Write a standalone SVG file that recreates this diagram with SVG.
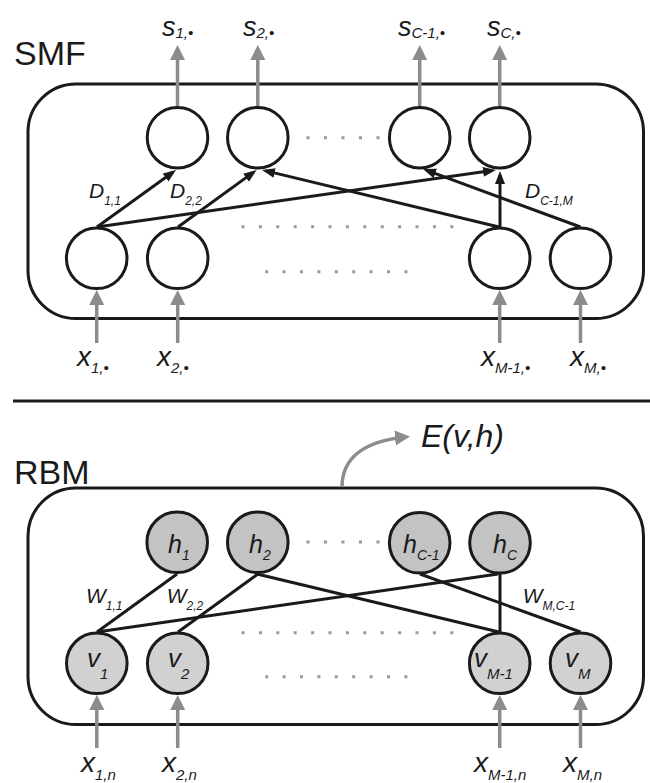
<svg xmlns="http://www.w3.org/2000/svg" width="650" height="783" viewBox="0 0 650 783">
<style>
.box{fill:none;stroke:#1a1a1a;stroke-width:3}
.node{fill:#fff;stroke:#1a1a1a;stroke-width:3}
.h{fill:#c3c3c3}
.v{fill:#d1d1d1}
.edge{fill:none;stroke:#1a1a1a;stroke-width:3}
.io{fill:none;stroke:#8c8c8c;stroke-width:3.5}
.dots{stroke:#999;stroke-width:3;fill:none}
.t{font-family:"Liberation Sans",Arial,sans-serif;font-style:italic;fill:#1a1a1a}
.title{font-family:"Liberation Sans",Arial,sans-serif;font-size:34px;fill:#1a1a1a}
</style>
<defs>
<marker id="ab" markerUnits="userSpaceOnUse" markerWidth="14" markerHeight="11" refX="9" refY="5" orient="auto" viewBox="0 0 14 11">
<path d="M0,0 L13,5 L0,10 z" fill="#1a1a1a"/>
</marker>
<marker id="ag" markerUnits="userSpaceOnUse" markerWidth="16" markerHeight="16" refX="11" refY="7.5" orient="auto" viewBox="0 0 16 16">
<path d="M0,0 L15,7.5 L0,15 z" fill="#8c8c8c"/>
</marker>
</defs>

<text class="title" x="14" y="65">SMF</text>
<line x1="13" y1="401" x2="650" y2="401" stroke="#1a1a1a" stroke-width="3"/>
<text class="title" x="14" y="484">RBM</text>

<g id="smf-box"><rect class="box" x="28" y="84" width="615.5" height="234.5" rx="48"/></g>
<g id="rbm-box"><rect class="box" x="28" y="488" width="615.5" height="236.5" rx="48"/></g>

<g id="connectors">
<line class="io" x1="177.5" y1="106" x2="177.5" y2="49" marker-end="url(#ag)"/>
<line class="io" x1="257.8" y1="106" x2="257.8" y2="49" marker-end="url(#ag)"/>
<line class="io" x1="419.7" y1="106" x2="419.7" y2="49" marker-end="url(#ag)"/>
<line class="io" x1="499.7" y1="106" x2="499.7" y2="49" marker-end="url(#ag)"/>
<line class="io" x1="96.7" y1="343" x2="96.7" y2="294" marker-end="url(#ag)"/>
<line class="io" x1="177.7" y1="343" x2="177.7" y2="294" marker-end="url(#ag)"/>
<line class="io" x1="499.7" y1="343" x2="499.7" y2="294" marker-end="url(#ag)"/>
<line class="io" x1="580.5" y1="343" x2="580.5" y2="294" marker-end="url(#ag)"/>
<line class="edge" x1="97" y1="227" x2="172.8" y2="172.3" marker-end="url(#ab)"/>
<line class="edge" x1="178" y1="227" x2="253.3" y2="172.4" marker-end="url(#ab)"/>
<line class="edge" x1="97" y1="227" x2="492" y2="170.6" marker-end="url(#ab)"/>
<line class="edge" x1="499" y1="227" x2="265.9" y2="170.9" marker-end="url(#ab)"/>
<line class="edge" x1="500" y1="227" x2="500" y2="175" marker-end="url(#ab)"/>
<line class="edge" x1="580.5" y1="227" x2="426.8" y2="170.4" marker-end="url(#ab)"/>
<line class="io" x1="96.8" y1="748" x2="96.8" y2="699" marker-end="url(#ag)"/>
<line class="io" x1="177.7" y1="748" x2="177.7" y2="699" marker-end="url(#ag)"/>
<line class="io" x1="499.7" y1="748" x2="499.7" y2="699" marker-end="url(#ag)"/>
<line class="io" x1="580.5" y1="748" x2="580.5" y2="699" marker-end="url(#ag)"/>
<line class="edge" x1="97" y1="632" x2="177" y2="574"/>
<line class="edge" x1="178" y1="632" x2="258" y2="574"/>
<line class="edge" x1="97" y1="632" x2="498" y2="574"/>
<line class="edge" x1="257" y1="574" x2="499" y2="632"/>
<line class="edge" x1="500" y1="574" x2="500" y2="632"/>
<line class="edge" x1="420" y1="574" x2="580.5" y2="632"/>
<path class="io" d="M342,487 C342,458 364,441 406,437" marker-end="url(#ag)"/>
</g>

<g id="dots">
<line class="dots" x1="306.5" y1="137.7" x2="379.5" y2="137.7" stroke-dasharray="3 14.5"/>
<line class="dots" x1="241.5" y1="226.7" x2="453.3" y2="226.7" stroke-dasharray="3 14.4"/>
<line class="dots" x1="265.2" y1="271.7" x2="407.4" y2="271.7" stroke-dasharray="3 14.4"/>
<line class="dots" x1="306.5" y1="542" x2="379.5" y2="542" stroke-dasharray="3 14.5"/>
<line class="dots" x1="241.5" y1="632.7" x2="453.3" y2="632.7" stroke-dasharray="3 14.4"/>
<line class="dots" x1="265.2" y1="676.7" x2="407.4" y2="676.7" stroke-dasharray="3 14.4"/>
</g>

<g id="smf-s1"><circle class="node" cx="177.5" cy="137.7" r="30.3"/></g>
<g id="smf-s2"><circle class="node" cx="257.8" cy="137.7" r="30.3"/></g>
<g id="smf-sC1"><circle class="node" cx="419.7" cy="137.7" r="30.3"/></g>
<g id="smf-sC"><circle class="node" cx="499.7" cy="137.7" r="30.3"/></g>
<g id="smf-x1"><circle class="node" cx="96.7" cy="258.3" r="30.3"/></g>
<g id="smf-x2"><circle class="node" cx="177.7" cy="258.3" r="30.3"/></g>
<g id="smf-xM1"><circle class="node" cx="499.7" cy="258.3" r="30.3"/></g>
<g id="smf-xM"><circle class="node" cx="580.5" cy="258.3" r="30.3"/></g>

<g id="rbm-h1"><circle class="node h" cx="177.2" cy="542.3" r="30.3"/><text class="t" x="168" y="552.7" font-size="25">h<tspan font-size="14" dy="7">1</tspan></text></g>
<g id="rbm-h2"><circle class="node h" cx="257.8" cy="542.3" r="30.3"/><text class="t" x="249" y="552.7" font-size="25">h<tspan font-size="14" dy="7">2</tspan></text></g>
<g id="rbm-hC1"><circle class="node h" cx="419.7" cy="542.8" r="30.3"/><text class="t" x="403" y="552.7" font-size="25">h<tspan font-size="14" dy="7">C-1</tspan></text></g>
<g id="rbm-hC"><circle class="node h" cx="500" cy="542.8" r="30.3"/><text class="t" x="493" y="552.7" font-size="25">h<tspan font-size="14" dy="7">C</tspan></text></g>
<g id="rbm-v1"><circle class="node v" cx="96.8" cy="663.3" r="30.3"/><text class="t" x="87" y="666.7" font-size="26">v<tspan font-size="15" dy="12">1</tspan></text></g>
<g id="rbm-v2"><circle class="node v" cx="177.7" cy="663.3" r="30.3"/><text class="t" x="168" y="666.7" font-size="26">v<tspan font-size="15" dy="12">2</tspan></text></g>
<g id="rbm-vM1"><circle class="node v" cx="499.7" cy="663.3" r="30.3"/><text class="t" x="474" y="666.7" font-size="26">v<tspan font-size="15" dy="12">M-1</tspan></text></g>
<g id="rbm-vM"><circle class="node v" cx="580.5" cy="663.3" r="30.3"/><text class="t" x="565" y="666.7" font-size="26">v<tspan font-size="15" dy="12">M</tspan></text></g>

<g id="labels">
<text class="t" x="162" y="36" font-size="27">s<tspan font-size="15" dy="2">1,•</tspan></text>
<text class="t" x="243" y="36" font-size="27">s<tspan font-size="15" dy="2">2,•</tspan></text>
<text class="t" x="398" y="36" font-size="27">s<tspan font-size="15" dy="2">C-1,•</tspan></text>
<text class="t" x="487" y="36" font-size="27">s<tspan font-size="15" dy="2">C,•</tspan></text>

<text class="t" x="77" y="366" font-size="28">x<tspan font-size="15" dy="7">1,•</tspan></text>
<text class="t" x="157" y="366" font-size="28">x<tspan font-size="15" dy="7">2,•</tspan></text>
<text class="t" x="481" y="366" font-size="28">x<tspan font-size="15" dy="7">M-1,•</tspan></text>
<text class="t" x="570" y="366" font-size="28">x<tspan font-size="15" dy="7">M,•</tspan></text>

<text class="t" x="81" y="771.7" font-size="28">x<tspan font-size="15" dy="8">1,n</tspan></text>
<text class="t" x="162" y="771.7" font-size="28">x<tspan font-size="15" dy="8">2,n</tspan></text>
<text class="t" x="474" y="771.7" font-size="28">x<tspan font-size="15" dy="8">M-1,n</tspan></text>
<text class="t" x="563" y="771.7" font-size="28">x<tspan font-size="15" dy="8">M,n</tspan></text>

<text class="t" x="89" y="198.3" font-size="21">D<tspan font-size="12" dy="7">1,1</tspan></text>
<text class="t" x="170" y="198.3" font-size="21">D<tspan font-size="12" dy="7">2,2</tspan></text>
<text class="t" x="525" y="198.3" font-size="21">D<tspan font-size="12" dy="7">C-1,M</tspan></text>

<text class="t" x="86" y="603" font-size="21">W<tspan font-size="12" dy="7">1,1</tspan></text>
<text class="t" x="166.7" y="603" font-size="21">W<tspan font-size="12" dy="7">2,2</tspan></text>
<text class="t" x="522.7" y="603" font-size="21">W<tspan font-size="12" dy="7">M,C-1</tspan></text>

<text class="t" x="421" y="447" font-size="32">E(v,h)</text>
</g>
</svg>
